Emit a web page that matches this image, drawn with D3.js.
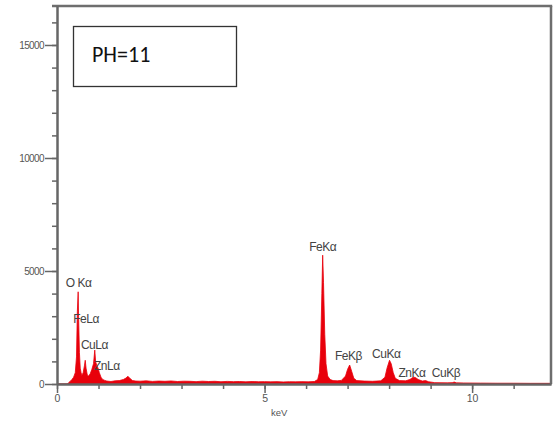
<!DOCTYPE html>
<html>
<head>
<meta charset="utf-8">
<style>
  body { margin: 0; background: #fff; }
  svg { display: block; }
  .tick text { font-family: "Liberation Sans", Arial, sans-serif; fill: #555; }
</style>
<script src="https://d3js.org/d3.v7.min.js"></script>
</head>
<body>
<div id="chart"></div>
<script>
// spectrum (keV, counts)
const keV = [0, 0.25, 0.28, 0.32, 0.36, 0.40, 0.44, 0.47, 0.49, 0.51, 0.52, 0.54, 0.56, 0.58, 0.60,
  0.63, 0.66, 0.68, 0.70, 0.73, 0.76, 0.80, 0.84, 0.88, 0.91, 0.93, 0.96, 0.99, 1.02, 1.06, 1.10,
  1.15, 1.20, 1.30, 1.40, 1.50, 1.60, 1.66, 1.71, 1.76, 1.82, 1.90, 2.00, 2.15, 2.30, 2.45, 2.60,
  2.75, 2.90, 3.05, 3.20, 3.35, 3.50, 3.65, 3.80, 3.95, 4.10, 4.25, 4.40, 4.55, 4.70, 4.85, 5.00,
  5.15, 5.30, 5.45, 5.60, 5.75, 5.90, 6.05, 6.20, 6.28, 6.32, 6.35, 6.38, 6.40, 6.42, 6.45, 6.48,
  6.52, 6.58, 6.65, 6.75, 6.85, 6.95, 7.00, 7.05, 7.10, 7.15, 7.22, 7.40, 7.60, 7.80, 7.90, 7.95,
  8.01, 8.05, 8.10, 8.15, 8.25, 8.40, 8.50, 8.58, 8.63, 8.70, 8.80, 8.88, 8.95, 9.10, 9.40, 9.52,
  9.57, 9.62, 9.80, 10.20, 10.60, 11.00, 11.40, 11.90];
const counts = [0, 0, 60, 120, 200, 300, 500, 1200, 3200, 4080, 3000, 1400, 700, 500, 380,
  500, 800, 1050, 700, 400, 350, 450, 650, 900, 1500, 1000, 800, 700, 500, 300, 200,
  160, 130, 110, 140, 150, 200, 260, 340, 240, 150, 130, 125, 140, 115, 130, 120,
  135, 110, 125, 120, 105, 125, 110, 120, 100, 115, 105, 110, 95, 110, 100, 105,
  95, 105, 90, 100, 95, 105, 95, 110, 200, 500, 1500, 4000, 5700, 4500, 2200, 900,
  350, 200, 150, 140, 160, 350, 650, 840, 550, 250, 150, 130, 120, 140, 300, 700,
  1050, 900, 500, 250, 150, 140, 200, 300, 290, 200, 130, 150, 100, 60, 50, 60,
  85, 50, 45, 40, 35, 35, 30, 30];

const peakNames = ["O Kα", "FeLα", "CuLα", "ZnLα", "FeKα", "FeKβ", "CuKα", "ZnKα", "CuKβ"];
const peakKeV = [0.52, 0.70, 0.90, 1.20, 6.40, 7.02, 7.93, 8.55, 9.37];
const peakLabelCounts = [4270, 2680, 1570, 600, 5900, 1040, 1170, 330, 330];

const xTicks = [0, 5, 10];
const yTicks = [0, 5000, 10000, 15000];
const annotation = "PH=11";

const W = 555, H = 421;
const m = {left: 57, top: 6, right: 4, bottom: 37};

const svg = d3.select("#chart").append("svg").attr("width", W).attr("height", H);

const x = d3.scaleLinear().domain([0, 11.9]).range([m.left, W - m.right]);
const y = d3.scaleLinear().domain([0, 16725]).range([H - m.bottom, m.top]);

const pts = keV.map((k, i) => [k, counts[i]]);

// spectrum
svg.append("path")
  .datum(pts)
  .attr("fill", "#e8000b")
  .attr("stroke", "#e8000b")
  .attr("stroke-width", 0.8)
  .attr("d", d3.area().x(d => x(d[0])).y0(y(0)).y1(d => y(d[1])));

// frame top/right
svg.append("line").attr("x1", 52).attr("x2", x(11.9) + 1.2).attr("y1", y.range()[1]).attr("y2", y.range()[1])
  .attr("stroke", "#6e6e6e").attr("stroke-width", 2.5);
svg.append("line").attr("x1", x(11.9)).attr("x2", x(11.9)).attr("y1", y.range()[1]).attr("y2", y(0))
  .attr("stroke", "#6e6e6e").attr("stroke-width", 2.5);

// minor ticks
const xAxisMinor = d3.axisBottom(x).tickValues(d3.range(0, 12, 1)).tickSize(5).tickSizeOuter(0).tickFormat("");
const yAxisMinor = d3.axisLeft(y).tickValues(d3.range(0, 17000, 1000)).tickSize(5).tickSizeOuter(0).tickFormat("");
svg.append("g").attr("transform", `translate(0,${y(0)})`).call(xAxisMinor);
svg.append("g").attr("transform", `translate(${m.left},0)`).call(yAxisMinor);

// major ticks with labels
const gx = svg.append("g").attr("transform", `translate(0,${y(0)})`)
  .call(d3.axisBottom(x).tickValues(xTicks).tickSize(9).tickSizeOuter(0).tickPadding(2).tickFormat(d3.format("d")));
const gy = svg.append("g").attr("transform", `translate(${m.left},0)`)
  .call(d3.axisLeft(y).tickValues(yTicks).tickSize(12).tickSizeOuter(0).tickPadding(1).tickFormat(d3.format("d")));

svg.selectAll(".domain").attr("stroke", "#666").attr("stroke-width", 2);
svg.selectAll(".tick line").attr("stroke", "#666").attr("stroke-width", 1.5);
gx.selectAll("text").attr("font-size", 10.5);
gy.selectAll("text").attr("font-size", 10).attr("dy", "0.35em").attr("letter-spacing", -0.6);

svg.append("text").attr("x", x(5.35)).attr("y", 416)
  .attr("text-anchor", "middle")
  .attr("font-family", "Liberation Sans, Arial, sans-serif").attr("font-size", 9.5)
  .attr("fill", "#555").text("keV");

// peak labels
svg.append("g").selectAll("text").data(peakNames).join("text")
  .attr("x", (d, i) => x(peakKeV[i]))
  .attr("y", (d, i) => y(peakLabelCounts[i]))
  .attr("text-anchor", "middle")
  .attr("font-family", "Liberation Sans, Arial, sans-serif")
  .attr("font-size", 12)
  .attr("letter-spacing", -0.5)
  .attr("fill", "#444")
  .text(d => d);

// PH box
svg.append("rect").attr("x", 73.5).attr("y", 26.5).attr("width", 163).attr("height", 60)
  .attr("fill", "#fff").attr("stroke", "#333").attr("stroke-width", 1.3);
svg.append("text").attr("x", 92).attr("y", 62)
  .attr("font-family", "Calibri, Carlito, 'Open Sans', sans-serif").attr("font-size", 22)
  .attr("fill", "#111").text(annotation);
</script>
</body>
</html>
